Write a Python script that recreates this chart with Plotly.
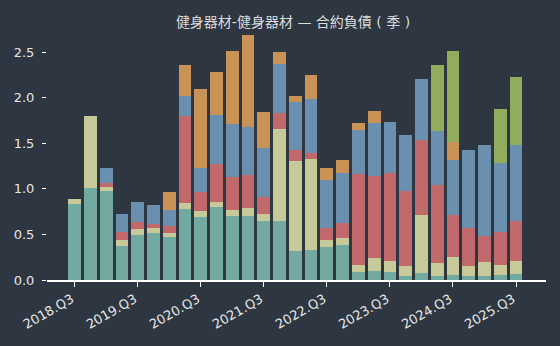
import plotly.graph_objects as go

quarters = ["2018.Q3","2018.Q4","2019.Q1","2019.Q2","2019.Q3","2019.Q4","2020.Q1","2020.Q2",
            "2020.Q3","2020.Q4","2021.Q1","2021.Q2","2021.Q3","2021.Q4","2022.Q1","2022.Q2",
            "2022.Q3","2022.Q4","2023.Q1","2023.Q2","2023.Q3","2023.Q4","2024.Q1","2024.Q2",
            "2024.Q3","2024.Q4","2025.Q1","2025.Q2","2025.Q3"]

s_teal = [0.837,1.009,0.972,0.373,0.497,0.515,0.471,0.779,0.694,0.804,0.702,0.702,0.647,0.647,0.318,0.329,
          0.362,0.384,0.088,0.099,0.088,0.044,0.077,0.044,0.055,0.044,0.044,0.055,0.066]
s_yellow = [0.05,0.789,0.048,0.066,0.062,0.055,0.044,0.069,0.063,0.055,0.066,0.088,0.077,1.009,0.987,0.998,
            0.077,0.077,0.077,0.142,0.120,0.110,0.636,0.142,0.197,0.110,0.153,0.109,0.142]
s_red = [0,0,0.047,0.091,0.081,0.048,0.073,0.950,0.212,0.417,0.361,0.362,0.186,0.175,0.120,0.066,
         0.131,0.164,0.998,0.899,0.962,0.818,0.822,0.856,0.461,0.416,0.285,0.362,0.439]
s_blue = [0,0,0.165,0.197,0.215,0.208,0.183,0.223,0.263,0.537,0.582,0.526,0.537,0.537,0.527,0.592,
          0.526,0.545,0.482,0.581,0.562,0.618,0.669,0.592,0.603,0.855,0.998,0.757,0.833]
s_orange = [0,0,0,0,0,0,0.198,0.340,0.862,0.468,0.800,1.012,0.395,0.132,0.069,0.263,
            0.132,0.146,0.077,0.132,0,0,0,0,0.197,0,0,0,0]
s_green = [0,0,0,0,0,0,0,0,0,0,0,0,0,0,0,0,
           0,0,0,0,0,0,0,0.723,0.998,0,0,0.592,0.746]

tick_labels = ["2018.Q3","2019.Q3","2020.Q3","2021.Q3","2022.Q3","2023.Q3","2024.Q3","2025.Q3"]

series = [
    (s_teal, "#72a9a1"),
    (s_yellow, "#c8c999"),
    (s_red, "#c1686a"),
    (s_blue, "#6b8fae"),
    (s_orange, "#c99256"),
    (s_green, "#8fad5b"),
]

x = list(range(len(quarters)))
fig = go.Figure()
for vals, col in series:
    fig.add_trace(go.Bar(x=x, y=vals, marker=dict(color=col, line=dict(width=0)),
                         hovertext=quarters, showlegend=False))

bg = "#2e3641"
fig.update_layout(
    barmode="stack",
    bargap=0.19,
    width=560, height=346,
    paper_bgcolor=bg, plot_bgcolor=bg,
    margin=dict(l=47, r=14, t=32, b=66),
    font=dict(family="DejaVu Sans, Noto Sans CJK TC", size=13, color="#e6e6e6"),
    title=dict(text="健身器材-健身器材 — 合約負債 ( 季 )", x=293/560, xanchor="center",
               y=1 - 22/346, yanchor="middle",
               font=dict(size=14, color="#dcdcdc", family="DejaVu Sans, Noto Sans CJK TC")),
    xaxis=dict(range=[-1.75, 29.9], tickvals=[x[quarters.index(t)] for t in tick_labels],
               ticktext=tick_labels, tickangle=-30, ticks="outside", ticklen=5,
               tickcolor="#ffffff", showline=True, linecolor="#ffffff", linewidth=1.5,
               ticklabelshift=-3,
               showgrid=False, zeroline=False, tickfont=dict(size=13)),
    yaxis=dict(range=[0, 2.72], tickvals=[0, 0.5, 1.0, 1.5, 2.0, 2.5], tickformat=".1f",
               ticks="outside", ticklen=4, tickcolor="#ffffff", showline=False,
               ticklabelstandoff=5,
               showgrid=False, zeroline=False, tickfont=dict(size=13)),
)
fig.write_html("out.html")
